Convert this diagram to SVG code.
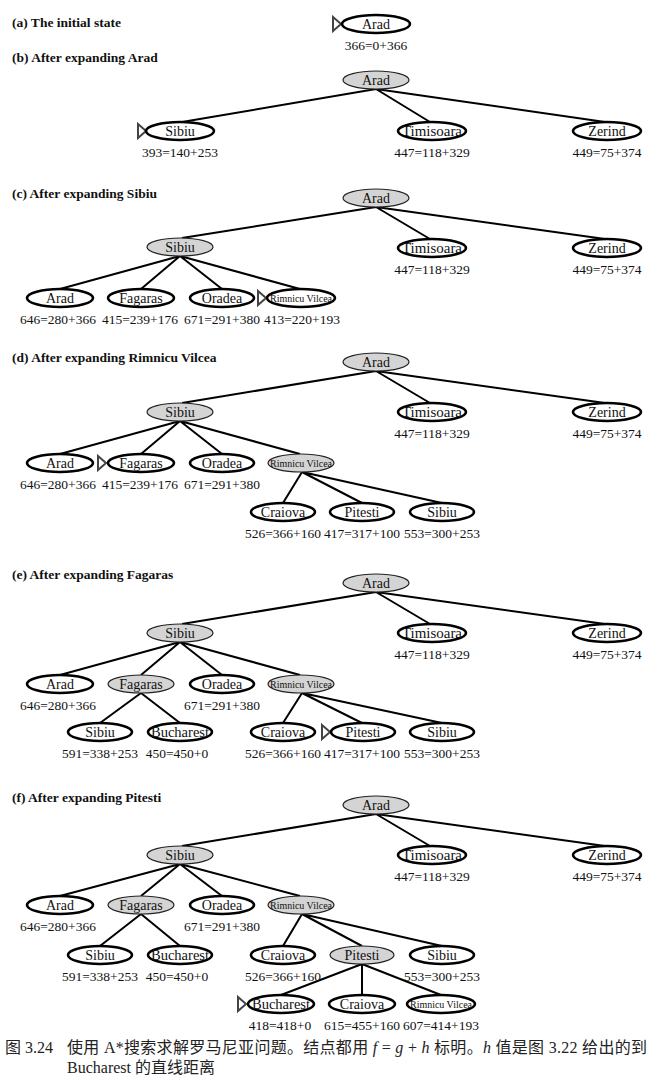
<svg xmlns="http://www.w3.org/2000/svg" width="651" height="1089" viewBox="0 0 651 1089">
<defs>
<style>
.sec{font-family:"Liberation Serif",serif;font-weight:bold;font-size:13.5px;fill:#111}
.n{fill:#fff;stroke:#000;stroke-width:2.6}
.g{fill:#d4d4d4;stroke:#222;stroke-width:1.2}
.t{font-family:"Liberation Serif",serif;font-size:14px;fill:#111;text-anchor:middle}
.s{font-family:"Liberation Serif",serif;font-size:10.5px;fill:#111;text-anchor:middle}
.v{font-family:"Liberation Serif",serif;font-size:13.5px;fill:#111;text-anchor:middle}
.e{stroke:#000;stroke-width:2;fill:none}
.tri{fill:#fff;stroke:#444;stroke-width:2;stroke-linejoin:miter}
.cap{font-family:"Liberation Serif","Noto Sans CJK SC",serif;font-size:16px;fill:#222}
</style>
</defs>
<rect width="651" height="1089" fill="#fff"/>

<text class="sec" x="12" y="27">(a) The initial state</text>
<text class="sec" x="12" y="62">(b) After expanding Arad</text>
<text class="sec" x="12" y="198">(c) After expanding Sibiu</text>
<text class="sec" x="12" y="362">(d) After expanding Rimnicu Vilcea</text>
<text class="sec" x="12" y="579">(e) After expanding Fagaras</text>
<text class="sec" x="12" y="802">(f) After expanding Pitesti</text>

<g id="connectors">
<path class="e" d="M376,89 L182,122 M376,89 L430,122 M376,89 L605,122"/>
<path class="e" d="M376,207 L182,238 M376,207 L430,239 M376,207 L605,239"/>
<path class="e" d="M180,256 L60,289 M180,256 L141,289 M180,256 L222,289 M180,256 L300,289"/>
<path class="e" d="M376,371 L182,403 M376,371 L430,403 M376,371 L605,403"/>
<path class="e" d="M180,421 L60,454 M180,421 L141,454 M180,421 L222,454 M180,421 L300,454"/>
<path class="e" d="M302,472 L283,503 M302,472 L362,503 M302,472 L442,503"/>
<path class="e" d="M376,592 L182,624 M376,592 L430,624 M376,592 L605,624"/>
<path class="e" d="M180,642 L60,675 M180,642 L141,675 M180,642 L222,675 M180,642 L300,675"/>
<path class="e" d="M141,693 L100,723 M141,693 L180,723"/>
<path class="e" d="M302,693 L283,723 M302,693 L362,723 M302,693 L442,723"/>
<path class="e" d="M376,814 L182,846 M376,814 L430,846 M376,814 L605,846"/>
<path class="e" d="M180,864 L60,896 M180,864 L141,896 M180,864 L222,896 M180,864 L300,896"/>
<path class="e" d="M141,914 L100,946 M141,914 L180,946"/>
<path class="e" d="M302,914 L283,946 M302,914 L362,946 M302,914 L442,946"/>
<path class="e" d="M362,964 L281,995 M362,964 L362,995 M362,964 L441,995"/>
</g>

<!-- (a) -->
<g id="a-arad">
<polygon class="tri" points="333,17 341,24 333,31"/>
<ellipse class="n" cx="376" cy="24" rx="34" ry="9"/>
<text class="t" x="376" y="28.5">Arad</text>
<text class="v" x="376" y="50">366=0+366</text>
</g>

<!-- (b) -->
<g id="b-arad"><ellipse class="g" cx="376" cy="80" rx="33" ry="9"/><text class="t" x="376" y="84.5">Arad</text></g>
<g id="b-sibiu"><polygon class="tri" points="138,124 146,131 138,138"/><ellipse class="n" cx="180" cy="131" rx="34" ry="9"/><text class="t" x="180" y="135.5">Sibiu</text><text class="v" x="180" y="157">393=140+253</text></g>
<g id="b-timisoara"><ellipse class="n" cx="432" cy="131" rx="34" ry="9"/><text class="t" x="432" y="135.5" textLength="60" lengthAdjust="spacingAndGlyphs">Timisoara</text><text class="v" x="432" y="157">447=118+329</text></g>
<g id="b-zerind"><ellipse class="n" cx="607" cy="131" rx="34" ry="9"/><text class="t" x="607" y="135.5">Zerind</text><text class="v" x="607" y="157">449=75+374</text></g>

<!-- (c) -->
<g id="c-arad"><ellipse class="g" cx="376" cy="198" rx="33" ry="9"/><text class="t" x="376" y="202.5">Arad</text></g>
<g id="c-sibiu"><ellipse class="g" cx="180" cy="247" rx="33" ry="9"/><text class="t" x="180" y="251.5">Sibiu</text></g>
<g id="c-timisoara"><ellipse class="n" cx="432" cy="248" rx="34" ry="9"/><text class="t" x="432" y="252.5" textLength="60" lengthAdjust="spacingAndGlyphs">Timisoara</text><text class="v" x="432" y="274">447=118+329</text></g>
<g id="c-zerind"><ellipse class="n" cx="607" cy="248" rx="34" ry="9"/><text class="t" x="607" y="252.5">Zerind</text><text class="v" x="607" y="274">449=75+374</text></g>
<g id="c-arad2"><ellipse class="n" cx="60" cy="298" rx="33" ry="9"/><text class="t" x="60" y="302.5">Arad</text><text class="v" x="58" y="324">646=280+366</text></g>
<g id="c-fagaras"><ellipse class="n" cx="141" cy="298" rx="33" ry="9"/><text class="t" x="141" y="302.5">Fagaras</text><text class="v" x="140" y="324">415=239+176</text></g>
<g id="c-oradea"><ellipse class="n" cx="222" cy="298" rx="32" ry="9"/><text class="t" x="222" y="302.5">Oradea</text><text class="v" x="222" y="324">671=291+380</text></g>
<g id="c-rimnicu"><polygon class="tri" points="258,291 266,298 258,305"/><ellipse class="n" cx="301" cy="298" rx="34" ry="9"/><text class="s" x="301" y="301.5" textLength="62" lengthAdjust="spacingAndGlyphs">Rimnicu Vilcea</text><text class="v" x="302" y="324">413=220+193</text></g>

<!-- (d) -->
<g id="d-arad"><ellipse class="g" cx="376" cy="362" rx="33" ry="9"/><text class="t" x="376" y="366.5">Arad</text></g>
<g id="d-sibiu"><ellipse class="g" cx="180" cy="412" rx="33" ry="9"/><text class="t" x="180" y="416.5">Sibiu</text></g>
<g id="d-timisoara"><ellipse class="n" cx="432" cy="412" rx="34" ry="9"/><text class="t" x="432" y="416.5" textLength="60" lengthAdjust="spacingAndGlyphs">Timisoara</text><text class="v" x="432" y="438">447=118+329</text></g>
<g id="d-zerind"><ellipse class="n" cx="607" cy="412" rx="34" ry="9"/><text class="t" x="607" y="416.5">Zerind</text><text class="v" x="607" y="438">449=75+374</text></g>
<g id="d-arad2"><ellipse class="n" cx="60" cy="463" rx="33" ry="9"/><text class="t" x="60" y="467.5">Arad</text><text class="v" x="58" y="489">646=280+366</text></g>
<g id="d-fagaras"><polygon class="tri" points="98,456 106,463 98,470"/><ellipse class="n" cx="141" cy="463" rx="33" ry="9"/><text class="t" x="141" y="467.5">Fagaras</text><text class="v" x="140" y="489">415=239+176</text></g>
<g id="d-oradea"><ellipse class="n" cx="222" cy="463" rx="32" ry="9"/><text class="t" x="222" y="467.5">Oradea</text><text class="v" x="222" y="489">671=291+380</text></g>
<g id="d-rimnicu"><ellipse class="g" cx="301" cy="463" rx="33" ry="9"/><text class="s" x="301" y="466.5" textLength="62" lengthAdjust="spacingAndGlyphs">Rimnicu Vilcea</text></g>
<g id="d-craiova"><ellipse class="n" cx="283" cy="512" rx="32" ry="9"/><text class="t" x="283" y="516.5">Craiova</text><text class="v" x="283" y="538">526=366+160</text></g>
<g id="d-pitesti"><ellipse class="n" cx="362" cy="512" rx="32" ry="9"/><text class="t" x="362" y="516.5">Pitesti</text><text class="v" x="362" y="538">417=317+100</text></g>
<g id="d-sibiu2"><ellipse class="n" cx="442" cy="512" rx="32" ry="9"/><text class="t" x="442" y="516.5">Sibiu</text><text class="v" x="442" y="538">553=300+253</text></g>

<!-- (e) -->
<g id="e-arad"><ellipse class="g" cx="376" cy="583" rx="33" ry="9"/><text class="t" x="376" y="587.5">Arad</text></g>
<g id="e-sibiu"><ellipse class="g" cx="180" cy="633" rx="33" ry="9"/><text class="t" x="180" y="637.5">Sibiu</text></g>
<g id="e-timisoara"><ellipse class="n" cx="432" cy="633" rx="34" ry="9"/><text class="t" x="432" y="637.5" textLength="60" lengthAdjust="spacingAndGlyphs">Timisoara</text><text class="v" x="432" y="659">447=118+329</text></g>
<g id="e-zerind"><ellipse class="n" cx="607" cy="633" rx="34" ry="9"/><text class="t" x="607" y="637.5">Zerind</text><text class="v" x="607" y="659">449=75+374</text></g>
<g id="e-arad2"><ellipse class="n" cx="60" cy="684" rx="33" ry="9"/><text class="t" x="60" y="688.5">Arad</text><text class="v" x="58" y="710">646=280+366</text></g>
<g id="e-fagaras"><ellipse class="g" cx="141" cy="684" rx="33" ry="9"/><text class="t" x="141" y="688.5">Fagaras</text></g>
<g id="e-oradea"><ellipse class="n" cx="222" cy="684" rx="32" ry="9"/><text class="t" x="222" y="688.5">Oradea</text><text class="v" x="222" y="710">671=291+380</text></g>
<g id="e-rimnicu"><ellipse class="g" cx="301" cy="684" rx="33" ry="9"/><text class="s" x="301" y="687.5" textLength="62" lengthAdjust="spacingAndGlyphs">Rimnicu Vilcea</text></g>
<g id="e-sibiu3"><ellipse class="n" cx="100" cy="732" rx="32" ry="9"/><text class="t" x="100" y="736.5">Sibiu</text><text class="v" x="100" y="758">591=338+253</text></g>
<g id="e-bucharest"><ellipse class="n" cx="180" cy="732" rx="32" ry="9"/><text class="t" x="180" y="736.5" textLength="58" lengthAdjust="spacingAndGlyphs">Bucharest</text><text class="v" x="177" y="758">450=450+0</text></g>
<g id="e-craiova"><ellipse class="n" cx="283" cy="732" rx="32" ry="9"/><text class="t" x="283" y="736.5">Craiova</text><text class="v" x="283" y="758">526=366+160</text></g>
<g id="e-pitesti"><polygon class="tri" points="322,725 330,732 322,739"/><ellipse class="n" cx="363" cy="732" rx="32" ry="9"/><text class="t" x="363" y="736.5">Pitesti</text><text class="v" x="362" y="758">417=317+100</text></g>
<g id="e-sibiu2"><ellipse class="n" cx="442" cy="732" rx="32" ry="9"/><text class="t" x="442" y="736.5">Sibiu</text><text class="v" x="442" y="758">553=300+253</text></g>

<!-- (f) -->
<g id="f-arad"><ellipse class="g" cx="376" cy="805" rx="33" ry="9"/><text class="t" x="376" y="809.5">Arad</text></g>
<g id="f-sibiu"><ellipse class="g" cx="180" cy="855" rx="33" ry="9"/><text class="t" x="180" y="859.5">Sibiu</text></g>
<g id="f-timisoara"><ellipse class="n" cx="432" cy="855" rx="34" ry="9"/><text class="t" x="432" y="859.5" textLength="60" lengthAdjust="spacingAndGlyphs">Timisoara</text><text class="v" x="432" y="881">447=118+329</text></g>
<g id="f-zerind"><ellipse class="n" cx="607" cy="855" rx="34" ry="9"/><text class="t" x="607" y="859.5">Zerind</text><text class="v" x="607" y="881">449=75+374</text></g>
<g id="f-arad2"><ellipse class="n" cx="60" cy="905" rx="33" ry="9"/><text class="t" x="60" y="909.5">Arad</text><text class="v" x="58" y="931">646=280+366</text></g>
<g id="f-fagaras"><ellipse class="g" cx="141" cy="905" rx="33" ry="9"/><text class="t" x="141" y="909.5">Fagaras</text></g>
<g id="f-oradea"><ellipse class="n" cx="222" cy="905" rx="32" ry="9"/><text class="t" x="222" y="909.5">Oradea</text><text class="v" x="222" y="931">671=291+380</text></g>
<g id="f-rimnicu"><ellipse class="g" cx="301" cy="905" rx="33" ry="9"/><text class="s" x="301" y="908.5" textLength="62" lengthAdjust="spacingAndGlyphs">Rimnicu Vilcea</text></g>
<g id="f-sibiu3"><ellipse class="n" cx="100" cy="955" rx="32" ry="9"/><text class="t" x="100" y="959.5">Sibiu</text><text class="v" x="100" y="981">591=338+253</text></g>
<g id="f-bucharest"><ellipse class="n" cx="180" cy="955" rx="32" ry="9"/><text class="t" x="180" y="959.5" textLength="58" lengthAdjust="spacingAndGlyphs">Bucharest</text><text class="v" x="177" y="981">450=450+0</text></g>
<g id="f-craiova"><ellipse class="n" cx="283" cy="955" rx="32" ry="9"/><text class="t" x="283" y="959.5">Craiova</text><text class="v" x="283" y="981">526=366+160</text></g>
<g id="f-pitesti"><ellipse class="g" cx="362" cy="955" rx="32" ry="9"/><text class="t" x="362" y="959.5">Pitesti</text></g>
<g id="f-sibiu2"><ellipse class="n" cx="442" cy="955" rx="32" ry="9"/><text class="t" x="442" y="959.5">Sibiu</text><text class="v" x="442" y="981">553=300+253</text></g>
<g id="f-bucharest2"><polygon class="tri" points="238,997 246,1004 238,1011"/><ellipse class="n" cx="281" cy="1004" rx="33" ry="9"/><text class="t" x="281" y="1008.5" textLength="58" lengthAdjust="spacingAndGlyphs">Bucharest</text><text class="v" x="280" y="1030">418=418+0</text></g>
<g id="f-craiova2"><ellipse class="n" cx="362" cy="1004" rx="33" ry="9"/><text class="t" x="362" y="1008.5">Craiova</text><text class="v" x="362" y="1030">615=455+160</text></g>
<g id="f-rimnicu2"><ellipse class="n" cx="441" cy="1004" rx="34" ry="9"/><text class="s" x="441" y="1007.5" textLength="62" lengthAdjust="spacingAndGlyphs">Rimnicu Vilcea</text><text class="v" x="441" y="1030">607=414+193</text></g>

<g id="caption">
<text class="cap" x="5" y="1053">图 3.24</text>
<text class="cap" x="67" y="1053" textLength="580" lengthAdjust="spacing">使用 A*搜索求解罗马尼亚问题。结点都用 <tspan font-style="italic">f</tspan> = <tspan font-style="italic">g</tspan> + <tspan font-style="italic">h</tspan> 标明。<tspan font-style="italic">h</tspan> 值是图 3.22 给出的到</text>
<text class="cap" x="67" y="1073">Bucharest 的直线距离</text>
</g>
</svg>
